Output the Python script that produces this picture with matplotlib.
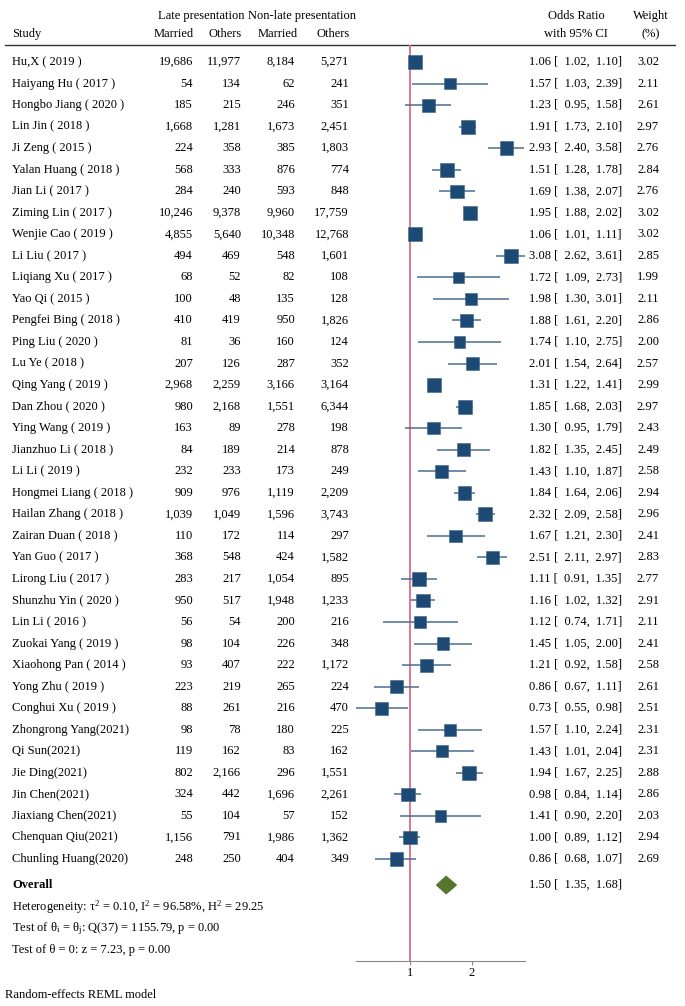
import numpy as np
import matplotlib
matplotlib.use("Agg")
import matplotlib.pyplot as plt
from matplotlib.patches import Polygon

plt.rcParams['font.family'] = ['Liberation Serif', 'DejaVu Serif']
plt.rcParams['mathtext.fontset'] = 'custom'
plt.rcParams['mathtext.rm'] = 'Liberation Serif'
plt.rcParams['mathtext.it'] = 'Liberation Serif'

studies = ["Hu,X ( 2019 )", "Haiyang Hu ( 2017 )", "Hongbo Jiang ( 2020 )", "Lin Jin ( 2018 )",
           "Ji Zeng ( 2015 )", "Yalan Huang ( 2018 )", "Jian Li ( 2017 )", "Ziming Lin ( 2017 )",
           "Wenjie Cao ( 2019 )", "Li Liu ( 2017 )", "Liqiang Xu ( 2017 )", "Yao Qi ( 2015 )",
           "Pengfei Bing ( 2018 )", "Ping Liu ( 2020 )", "Lu Ye ( 2018 )", "Qing Yang ( 2019 )",
           "Dan Zhou ( 2020 )", "Ying Wang ( 2019 )", "Jianzhuo Li ( 2018 )", "Li Li ( 2019 )",
           "Hongmei Liang ( 2018 )", "Hailan Zhang ( 2018 )", "Zairan Duan ( 2018 )", "Yan Guo ( 2017 )",
           "Lirong Liu ( 2017 )", "Shunzhu Yin ( 2020 )", "Lin Li ( 2016 )", "Zuokai Yang ( 2019 )",
           "Xiaohong Pan ( 2014 )", "Yong Zhu ( 2019 )", "Conghui Xu ( 2019 )", "Zhongrong Yang(2021)",
           "Qi Sun(2021)", "Jie Ding(2021)", "Jin Chen(2021)", "Jiaxiang Chen(2021)",
           "Chenquan Qiu(2021)", "Chunling Huang(2020)"]
late_married = [19686, 54, 185, 1668, 224, 568, 284, 10246, 4855, 494, 68, 100, 410, 81, 207, 2968,
                980, 163, 84, 232, 909, 1039, 110, 368, 283, 950, 56, 98, 93, 223, 88, 98, 119, 802,
                324, 55, 1156, 248]
late_others = [11977, 134, 215, 1281, 358, 333, 240, 9378, 5640, 469, 52, 48, 419, 36, 126, 2259,
               2168, 89, 189, 233, 976, 1049, 172, 548, 217, 517, 54, 104, 407, 219, 261, 78, 162,
               2166, 442, 104, 791, 250]
non_married = [8184, 62, 246, 1673, 385, 876, 593, 9960, 10348, 548, 82, 135, 950, 160, 287, 3166,
               1551, 278, 214, 173, 1119, 1596, 114, 424, 1054, 1948, 200, 226, 222, 265, 216, 180,
               83, 296, 1696, 57, 1986, 404]
non_others = [5271, 241, 351, 2451, 1803, 774, 848, 17759, 12768, 1601, 108, 128, 1826, 124, 352,
              3164, 6344, 198, 878, 249, 2209, 3743, 297, 1582, 895, 1233, 216, 348, 1172, 224, 470,
              225, 162, 1551, 2261, 152, 1362, 349]
odds = [1.06, 1.57, 1.23, 1.91, 2.93, 1.51, 1.69, 1.95, 1.06, 3.08, 1.72, 1.98, 1.88, 1.74, 2.01,
        1.31, 1.85, 1.30, 1.82, 1.43, 1.84, 2.32, 1.67, 2.51, 1.11, 1.16, 1.12, 1.45, 1.21, 0.86,
        0.73, 1.57, 1.43, 1.94, 0.98, 1.41, 1.00, 0.86]
ci_low = [1.02, 1.03, 0.95, 1.73, 2.40, 1.28, 1.38, 1.88, 1.01, 2.62, 1.09, 1.30, 1.61, 1.10, 1.54,
          1.22, 1.68, 0.95, 1.35, 1.10, 1.64, 2.09, 1.21, 2.11, 0.91, 1.02, 0.74, 1.05, 0.92, 0.67,
          0.55, 1.10, 1.01, 1.67, 0.84, 0.90, 0.89, 0.68]
ci_high = [1.10, 2.39, 1.58, 2.10, 3.58, 1.78, 2.07, 2.02, 1.11, 3.61, 2.73, 3.01, 2.20, 2.75, 2.64,
           1.41, 2.03, 1.79, 2.45, 1.87, 2.06, 2.58, 2.30, 2.97, 1.35, 1.32, 1.71, 2.00, 1.58, 1.11,
           0.98, 2.24, 2.04, 2.25, 1.14, 2.20, 1.12, 1.07]
weights = [3.02, 2.11, 2.61, 2.97, 2.76, 2.84, 2.76, 3.02, 3.02, 2.85, 1.99, 2.11, 2.86, 2.00, 2.57,
           2.99, 2.97, 2.43, 2.49, 2.58, 2.94, 2.96, 2.41, 2.83, 2.77, 2.91, 2.11, 2.41, 2.58, 2.61,
           2.51, 2.31, 2.31, 2.88, 2.86, 2.03, 2.94, 2.69]
overall = (1.50, 1.35, 1.68)

W, H = 685, 1006
fig = plt.figure(figsize=(W / 100, H / 100), dpi=100)
fs = 9.0

# background axes in pixel units for the table text
bg = fig.add_axes([0, 0, 1, 1])
bg.set_xlim(0, W)
bg.set_ylim(H, 0)
bg.axis('off')

y0, dy = 62, 21.54
n = len(studies)
row_y = y0 + dy * np.arange(n)
y_overall = y0 + dy * 38.21

# headers
bg.text(158, 16, "Late presentation", fontsize=fs, va='center')
bg.text(248, 16, "Non-late presentation", fontsize=fs, va='center')
bg.text(12, 34, "Study", fontsize=fs, va='center')
for x, t in [(194, "Married"), (242, "Others"), (298, "Married"), (350, "Others")]:
    bg.text(x, 34, t, fontsize=fs, va='center', ha='right')
bg.text(576, 16, "Odds Ratio", fontsize=fs, va='center', ha='center')
bg.text(576, 34, "with 95% CI", fontsize=fs, va='center', ha='center')
bg.text(651, 16, "Weight", fontsize=fs, va='center', ha='center')
bg.text(651, 34, "(%)", fontsize=fs, va='center', ha='center')
bg.plot([5, 675], [44.5, 44.5], color='#333333', lw=1)

for i in range(n):
    y = row_y[i]
    bg.text(12, y, studies[i], fontsize=fs, va='center')
    bg.text(193, y, f"{late_married[i]:,}", fontsize=fs, va='center', ha='right')
    bg.text(241, y, f"{late_others[i]:,}", fontsize=fs, va='center', ha='right')
    bg.text(295, y, f"{non_married[i]:,}", fontsize=fs, va='center', ha='right')
    bg.text(349, y, f"{non_others[i]:,}", fontsize=fs, va='center', ha='right')
    bg.text(529, y, f"{odds[i]:.2f} [  {ci_low[i]:.2f},  {ci_high[i]:.2f}]", fontsize=fs, va='center')
    bg.text(659, y, f"{weights[i]:.2f}", fontsize=fs, va='center', ha='right')

bg.text(12, y_overall, "Overall", fontsize=fs, va='center', fontweight='bold')
bg.text(529, y_overall, f"{overall[0]:.2f} [  {overall[1]:.2f},  {overall[2]:.2f}]", fontsize=fs, va='center')
bg.text(12, 907, r"Heterogeneity: τ$^2$ = 0.10, I$^2$ = 96.58%, H$^2$ = 29.25", fontsize=fs, va='center')
bg.text(12, 929, r"Test of θ$_\mathrm{i}$ = θ$_\mathrm{j}$: Q(37) = 1155.79, p = 0.00", fontsize=fs, va='center')
bg.text(12, 950, "Test of θ = 0: z = 7.23, p = 0.00", fontsize=fs, va='center')
bg.text(5, 995, "Random-effects REML model", fontsize=fs, va='center')

# forest axes
x_left, x_right, y_top, y_bot = 356, 525, 44.5, 961
ax = fig.add_axes([x_left / W, 1 - y_bot / H, (x_right - x_left) / W, (y_bot - y_top) / H])
ax.patch.set_alpha(0)
ax.set_xscale('log')
ax.set_xlim(min(ci_low), max(ci_high))
ax.set_ylim((y_bot - y0) / dy, (y_top - y0) / dy)
ax.axvline(1, color='#dc6a8c', lw=1.3, zorder=1)

rows = np.arange(n)
ax.hlines(rows, ci_low, ci_high, color='#4a6d90', lw=1.1, zorder=2)
sizes = (10.1 * np.sqrt(np.array(weights) / 3.02)) ** 2
ax.scatter(odds, rows, marker='s', s=sizes, color='#1c4a74', edgecolor='#3d6388', lw=0.4, zorder=3)

r_ov = (y_overall - y0) / dy
h = 0.4
diamond = Polygon([(overall[1], r_ov), (overall[0], r_ov - h), (overall[2], r_ov), (overall[0], r_ov + h)],
                  closed=True, color='#56762c', zorder=3)
ax.add_patch(diamond)

for s in ['top', 'left', 'right']:
    ax.spines[s].set_visible(False)
ax.spines['bottom'].set_color('#888888')
ax.set_yticks([])
ax.set_xticks([1, 2])
ax.set_xticklabels(['1', '2'])
ax.minorticks_off()
ax.tick_params(axis='x', length=3, width=0.8, color='#888888', labelsize=fs, pad=1)

fig.savefig("out.png", dpi=100)
